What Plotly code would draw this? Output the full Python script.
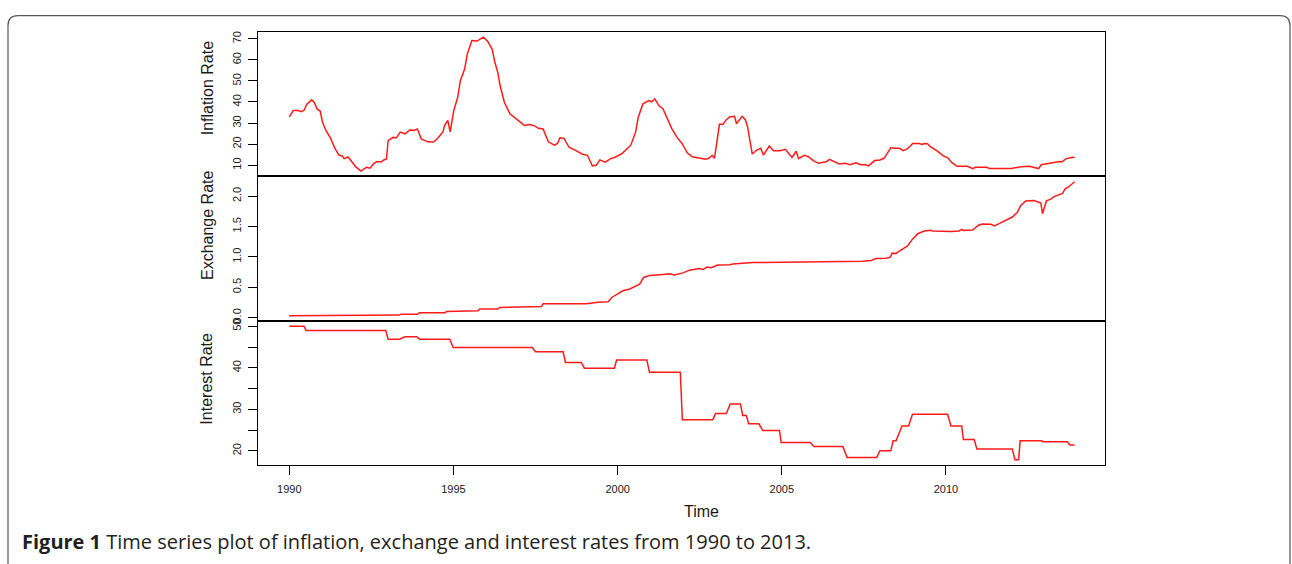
import plotly.graph_objects as go

# ---------------- data ----------------
infl_t = [1990.00,1990.12,1990.27,1990.36,1990.45,1990.53,1990.68,1990.76,1990.85,1990.94,
          1991.01,1991.11,1991.26,1991.39,1991.51,1991.61,1991.67,1991.79,1991.89,1992.02,
          1992.18,1992.35,1992.46,1992.56,1992.66,1992.81,1992.88,1992.96,1993.01,1993.16,
          1993.26,1993.38,1993.53,1993.67,1993.82,1993.90,1994.02,1994.22,1994.39,1994.52,
          1994.68,1994.73,1994.83,1994.90,1995.01,1995.13,1995.21,1995.34,1995.42,1995.56,
          1995.72,1995.84,1995.91,1996.04,1996.18,1996.25,1996.35,1996.42,1996.55,1996.72,
          1996.95,1997.16,1997.31,1997.46,1997.59,1997.73,1997.89,1998.07,1998.17,1998.24,
          1998.37,1998.52,1998.73,1998.93,1999.08,1999.23,1999.35,1999.46,1999.62,1999.79,
          1999.94,2000.14,2000.40,2000.55,2000.63,2000.77,2000.95,2001.04,2001.13,2001.26,
          2001.38,2001.51,2001.65,2001.81,2001.96,2002.12,2002.27,2002.47,2002.68,2002.78,
          2002.88,2002.95,2003.10,2003.21,2003.31,2003.41,2003.56,2003.62,2003.79,2003.89,
          2003.96,2004.10,2004.24,2004.36,2004.44,2004.62,2004.75,2004.95,2005.11,2005.31,
          2005.44,2005.51,2005.68,2005.81,2005.96,2006.12,2006.35,2006.45,2006.57,2006.75,
          2006.93,2007.08,2007.26,2007.40,2007.53,2007.64,2007.83,2007.99,2008.12,2008.32,
          2008.44,2008.59,2008.69,2008.82,2008.99,2009.19,2009.27,2009.34,2009.44,2009.52,
          2009.74,2009.90,2010.06,2010.18,2010.34,2010.65,2010.82,2010.89,2011.23,2011.33,
          2011.99,2012.29,2012.54,2012.82,2012.90,2013.15,2013.46,2013.54,2013.65,2013.82,
          2013.92]
infl_v = [32.9,35.9,35.9,35.4,36.1,38.8,41.0,39.8,36.6,35.7,
          30.5,26.6,22.7,18.0,14.8,14.4,13.1,13.9,12.0,9.3,
          7.2,9.0,8.6,10.6,11.6,11.6,12.5,13.0,21.6,23.2,
          23.0,25.7,24.9,26.7,26.6,27.2,22.5,21.1,21.0,22.8,
          25.8,28.9,31.2,25.8,36.0,42.3,50.1,55.6,62.7,69.2,
          68.9,70.1,70.8,68.9,65.0,59.5,54.0,47.8,39.9,34.4,
          31.6,28.9,29.3,28.8,27.5,27.2,21.1,19.5,20.3,23.0,
          22.7,18.5,16.9,15.2,14.7,9.7,10.0,12.5,11.4,13.1,
          13.9,15.6,19.5,25.8,32.9,39.1,40.7,40.1,41.5,38.2,
          36.8,32.6,27.4,23.2,20.3,15.9,14.0,13.4,12.8,13.3,
          14.7,13.3,29.4,29.4,31.6,32.9,33.2,29.7,33.2,31.6,
          28.1,15.3,17.2,18.0,14.8,19.1,16.9,16.9,17.5,13.7,
          16.6,13.1,14.7,14.0,12.2,10.9,11.6,12.8,11.9,10.6,
          10.9,10.2,11.1,10.2,10.3,9.7,12.2,12.5,13.4,18.3,
          18.0,18.0,16.9,17.7,20.3,20.3,19.9,20.3,20.2,18.8,
          16.7,14.7,13.4,11.2,9.5,9.5,8.4,9.0,9.0,8.4,
          8.4,9.3,9.5,8.4,10.2,10.9,11.7,11.6,13.0,13.6,
          13.8]

exch_t = [1990.00,1992.10,1992.15,1993.35,1993.40,1993.90,1993.97,1994.75,1994.79,1995.35,
          1995.40,1995.75,1995.80,1996.35,1996.41,1997.12,1997.68,1997.73,1999.05,1999.40,
          1999.71,1999.82,2000.16,2000.37,2000.67,2000.79,2000.97,2001.38,2001.58,2001.73,
          2001.99,2002.19,2002.50,2002.60,2002.72,2002.85,2003.05,2003.41,2003.51,2004.12,
          2005.84,2007.46,2007.72,2007.87,2008.17,2008.30,2008.36,2008.48,2008.58,2008.73,
          2008.83,2008.98,2009.14,2009.34,2009.54,2009.60,2010.10,2010.15,2010.40,2010.48,
          2010.52,2010.81,2010.99,2011.11,2011.37,2011.47,2011.62,2011.82,2012.02,2012.17,
          2012.28,2012.43,2012.68,2012.89,2012.94,2013.06,2013.19,2013.29,2013.55,2013.63,
          2013.73,2013.92]
exch_v = [0.028,0.028,0.040,0.040,0.055,0.055,0.080,0.080,0.100,0.100,
          0.110,0.110,0.140,0.140,0.165,0.175,0.180,0.225,0.225,0.250,
          0.260,0.330,0.440,0.470,0.550,0.660,0.690,0.710,0.720,0.700,
          0.735,0.780,0.805,0.790,0.830,0.820,0.865,0.870,0.880,0.905,
          0.915,0.925,0.940,0.970,0.975,0.990,1.060,1.055,1.095,1.150,
          1.180,1.290,1.380,1.425,1.435,1.425,1.420,1.415,1.425,1.450,
          1.435,1.440,1.520,1.540,1.535,1.510,1.545,1.600,1.655,1.730,
          1.845,1.920,1.925,1.885,1.710,1.920,1.950,1.990,2.045,2.120,
          2.150,2.235]

intr_t = [1990.00,1990.45,1990.51,1992.94,1993.01,1993.36,1993.52,1993.88,1993.97,1994.89,
          1994.99,1997.40,1997.50,1998.34,1998.41,1998.89,1998.99,1999.90,1999.97,2000.89,
          2000.97,2001.91,2001.97,2002.90,2002.98,2003.31,2003.43,2003.74,2003.81,2003.92,
          2003.99,2004.30,2004.42,2004.93,2004.98,2005.87,2005.98,2006.86,2006.99,2007.89,
          2007.99,2008.32,2008.39,2008.48,2008.66,2008.86,2008.98,2010.05,2010.15,2010.48,
          2010.53,2010.86,2010.94,2012.02,2012.10,2012.21,2012.26,2012.92,2012.94,2013.70,
          2013.77,2013.92]
intr_v = [50.0,50.0,49.0,49.0,46.9,46.9,47.5,47.5,46.9,46.9,
          44.9,44.9,43.9,43.9,41.3,41.3,39.9,39.9,41.9,41.9,
          38.9,38.9,27.5,27.5,29.0,29.0,31.3,31.3,28.5,28.5,
          26.5,26.5,24.9,24.9,22.0,22.0,21.0,21.0,18.4,18.4,
          20.0,20.0,22.4,22.4,26.0,26.0,28.8,28.8,26.0,26.0,
          22.7,22.7,20.4,20.4,17.85,17.85,22.4,22.4,22.15,22.15,
          21.4,21.4]

x_ticks = [1990, 1995, 2000, 2005, 2010]
infl_ticks = [10, 20, 30, 40, 50, 60, 70]
exch_ticks = [0.0, 0.5, 1.0, 1.5, 2.0]
exch_ticktext = ["0.0", "0.5", "1.0", "1.5", "2.0"]
intr_ticks = [20, 25, 30, 35, 40, 45, 50]
intr_ticktext = ["20", "", "30", "", "40", "", "50"]

panel_titles = ["Inflation Rate", "Exchange Rate", "Interest Rate"]
x_title = "Time"
caption_bold = "Figure 1"
caption_rest = " Time series plot of inflation, exchange and interest rates from 1990 to 2013."

# ---------------- layout geometry (pixels) ----------------
W, H = 1292, 564
LEFT, RIGHT = 258, 1105
PANELS = [(29, 175), (175, 321), (321, 466)]  # top/bottom pixel of each panel
XRANGE = [1989.047, 2014.843]
YRANGES = [[4.66, 73.34], [-0.06, 2.323], [16.6, 51.25]]
FONT = "Liberation Sans, Arial, Helvetica, sans-serif"
RED = "#FF1A1A"


def py(p):
    return 1 - p / H


def px(p):
    return p / W


fig = go.Figure()
series = [(infl_t, infl_v), (exch_t, exch_v), (intr_t, intr_v)]
for i, (t, v) in enumerate(series):
    fig.add_trace(go.Scatter(
        x=t, y=v, mode="lines",
        line=dict(color=RED, width=1.5),
        xaxis="x" if i == 0 else f"x{i+1}",
        yaxis="y" if i == 0 else f"y{i+1}",
        showlegend=False, hoverinfo="skip"))

axis_common = dict(showline=True, linecolor="black", linewidth=1, mirror=True,
                   showgrid=False, zeroline=False, ticks="outside", ticklen=9,
                   tickwidth=1, tickcolor="black",
                   tickfont=dict(family=FONT, size=11, color="#1a1a1a"))

layout = dict(width=W, height=H, margin=dict(l=0, r=0, t=0, b=0),
              paper_bgcolor="white", plot_bgcolor="white", showlegend=False)

ytick_sets = [
    dict(tickvals=infl_ticks, ticktext=[str(v) for v in infl_ticks]),
    dict(tickvals=exch_ticks, ticktext=exch_ticktext),
    dict(tickvals=intr_ticks, ticktext=intr_ticktext),
]

for i, (top, bot) in enumerate(PANELS):
    sfx = "" if i == 0 else str(i + 1)
    xa = dict(axis_common)
    xa.update(domain=[px(LEFT), px(RIGHT)], range=XRANGE, anchor="y" + sfx,
              tickmode="array", tickvals=x_ticks, ticktext=[str(v) for v in x_ticks],
              ticklabelstandoff=5)
    if i < 2:
        xa.update(ticks="", showticklabels=False)
    layout["xaxis" + sfx] = xa
    ya = dict(axis_common)
    ya.update(domain=[py(bot), py(top)], range=YRANGES[i], anchor="x" + sfx,
              tickmode="array", tickangle=-90, ticklabelstandoff=3, **ytick_sets[i])
    layout["yaxis" + sfx] = ya

fig.update_layout(**layout)

# y titles
title_centers = [86, 224, 379]
for name, yc in zip(panel_titles, title_centers):
    fig.add_annotation(text=name, x=px(207), y=py(yc), xref="paper", yref="paper",
                       textangle=-90, showarrow=False, xanchor="center", yanchor="middle",
                       font=dict(family=FONT, size=16, color="#1a1a1a"))

fig.add_annotation(text=x_title, x=px(701), y=py(513), xref="paper", yref="paper",
                   showarrow=False, xanchor="center", yanchor="middle",
                   font=dict(family=FONT, size=16, color="#1a1a1a"))

fig.add_annotation(text=f"<b>{caption_bold}</b>{caption_rest}", x=px(20), y=py(543),
                   xref="paper", yref="paper", showarrow=False,
                   xanchor="left", yanchor="middle",
                   font=dict(family="Open Sans, Noto Sans, sans-serif", size=20, color="#231f20"))

# rounded frame around the figure
x0, x1, yt, r = 8, 1290, 12.7, 10
path = (f"M {px(x0)},{py(H+5)} L {px(x0)},{py(yt+r)} "
        f"Q {px(x0)},{py(yt)} {px(x0+r)},{py(yt)} "
        f"L {px(x1-r)},{py(yt)} Q {px(x1)},{py(yt)} {px(x1)},{py(yt+r)} "
        f"L {px(x1)},{py(H+5)}")
fig.add_shape(type="path", path=path, xref="paper", yref="paper",
              line=dict(color="#555555", width=1.2))

fig.write_html("out.html", config={"displayModeBar": False},
               post_script="document.body.style.margin='0';document.body.style.overflow='hidden';")
